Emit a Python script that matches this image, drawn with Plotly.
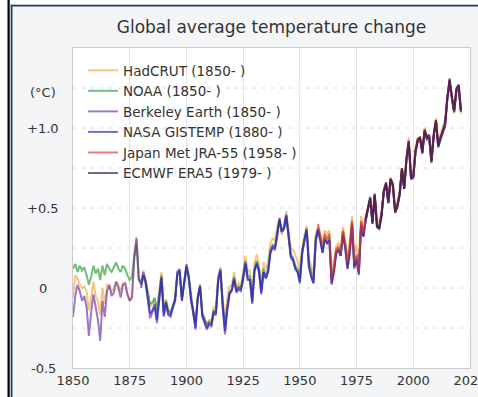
import plotly.graph_objects as go

# ---------------- data ----------------
years_1850 = list(range(1850, 2022))
years_1880 = list(range(1880, 2022))
years_1958 = list(range(1958, 2022))
years_1979 = list(range(1979, 2022))

hadcrut = [
    -0.06, 0.08, 0.06, 0.02, 0.00, 0.01, -0.02, -0.14, -0.06, 0.04,
    -0.05, -0.08, -0.17, 0.00, -0.10, 0.02, 0.01, -0.02, 0.00, 0.04,
    0.02, -0.02, 0.03, 0.02, -0.04, -0.08, -0.05, 0.22, 0.32, 0.05,
    0.03, 0.11, 0.05, -0.03, -0.12, -0.10, -0.07, -0.15, -0.03, 0.10,
    -0.15, -0.07, -0.14, -0.16, -0.12, -0.07, 0.10, 0.10, -0.07, 0.03,
    0.13, 0.07, -0.07, -0.17, -0.22, -0.05, 0.02, -0.15, -0.20, -0.22,
    -0.20, -0.21, -0.12, -0.12, 0.07, 0.13, -0.08, -0.18, -0.06, 0.01,
    0.02, 0.10, 0.01, 0.03, 0.01, 0.10, 0.20, 0.11, 0.11, -0.03,
    0.16, 0.21, 0.15, 0.02, 0.16, 0.12, 0.16, 0.28, 0.31, 0.30,
    0.38, 0.43, 0.33, 0.38, 0.48, 0.37, 0.25, 0.24, 0.20, 0.17,
    0.10, 0.25, 0.33, 0.39, 0.18, 0.14, 0.08, 0.33, 0.39, 0.34,
    0.28, 0.36, 0.34, 0.36, 0.09, 0.17, 0.26, 0.28, 0.25, 0.38,
    0.30, 0.20, 0.30, 0.45, 0.21, 0.27, 0.17, 0.45, 0.36, 0.45,
    0.50, 0.56, 0.42, 0.59, 0.42, 0.41, 0.47, 0.61, 0.64, 0.55,
    0.68, 0.66, 0.50, 0.54, 0.60, 0.75, 0.64, 0.82, 0.94, 0.74,
    0.73, 0.88, 0.94, 0.94, 0.86, 1.00, 0.95, 0.95, 0.84, 0.97,
    1.06, 0.93, 0.96, 1.01, 1.05, 1.20, 1.27, 1.18, 1.09, 1.22,
    1.25, 1.09,
]

noaa = [
    0.12, 0.15, 0.10, 0.14, 0.11, 0.13, 0.08, 0.02, 0.07, 0.14,
    0.09, 0.12, 0.05, 0.14, 0.08, 0.15, 0.12, 0.10, 0.13, 0.16,
    0.12, 0.10, 0.14, 0.12, 0.08, 0.05, 0.07, 0.20, 0.28, 0.06,
    0.04, 0.08, 0.05, -0.02, -0.10, -0.09, -0.06, -0.14, -0.04, 0.08,
    -0.12, -0.08, -0.14, -0.15, -0.11, -0.06, 0.08, 0.09, -0.06, 0.02,
    0.12, 0.06, -0.06, -0.14, -0.21, -0.06, 0.00, -0.16, -0.19, -0.23,
    -0.21, -0.22, -0.14, -0.14, 0.04, 0.10, -0.10, -0.24, -0.12, -0.03,
    -0.01, 0.07, -0.01, 0.01, 0.00, 0.07, 0.17, 0.08, 0.07, -0.07,
    0.12, 0.17, 0.12, -0.01, 0.12, 0.08, 0.12, 0.24, 0.27, 0.26,
    0.35, 0.42, 0.35, 0.37, 0.45, 0.33, 0.21, 0.19, 0.14, 0.12,
    0.06, 0.23, 0.31, 0.37, 0.15, 0.09, 0.05, 0.31, 0.37, 0.31,
    0.24, 0.32, 0.30, 0.32, 0.05, 0.12, 0.23, 0.25, 0.21, 0.35,
    0.27, 0.14, 0.24, 0.41, 0.14, 0.20, 0.10, 0.41, 0.33, 0.43,
    0.49, 0.55, 0.41, 0.58, 0.39, 0.38, 0.46, 0.60, 0.64, 0.53,
    0.68, 0.64, 0.48, 0.52, 0.59, 0.74, 0.62, 0.81, 0.91, 0.69,
    0.70, 0.86, 0.92, 0.93, 0.85, 0.98, 0.93, 0.94, 0.80, 0.95,
    1.04, 0.89, 0.94, 0.98, 1.02, 1.18, 1.28, 1.19, 1.10, 1.23,
    1.25, 1.10,
]

berkeley = [
    -0.18, -0.05, 0.02, -0.02, -0.08, -0.05, -0.12, -0.30, -0.15, -0.04,
    -0.12, -0.20, -0.33, -0.08, -0.18, -0.02, 0.02, -0.05, -0.03, 0.04,
    0.00, -0.06, 0.02, 0.03, -0.04, -0.08, -0.06, 0.18, 0.31, 0.05,
    0.02, 0.10, 0.04, -0.08, -0.19, -0.15, -0.12, -0.22, -0.08, 0.07,
    -0.18, -0.10, -0.17, -0.18, -0.12, -0.08, 0.10, 0.12, -0.08, 0.03,
    0.15, 0.08, -0.08, -0.15, -0.26, -0.06, 0.02, -0.18, -0.22, -0.26,
    -0.23, -0.24, -0.16, -0.17, 0.06, 0.12, -0.12, -0.29, -0.14, -0.04,
    -0.02, 0.06, -0.03, -0.01, -0.02, 0.06, 0.16, 0.06, 0.05, -0.10,
    0.10, 0.16, 0.10, -0.04, 0.10, 0.06, 0.10, 0.22, 0.26, 0.25,
    0.33, 0.44, 0.36, 0.38, 0.46, 0.34, 0.20, 0.18, 0.12, 0.10,
    0.04, 0.22, 0.30, 0.37, 0.14, 0.07, 0.03, 0.30, 0.37, 0.30,
    0.22, 0.31, 0.28, 0.30, 0.02, 0.10, 0.22, 0.24, 0.20, 0.34,
    0.25, 0.12, 0.22, 0.40, 0.12, 0.18, 0.08, 0.40, 0.32, 0.42,
    0.49, 0.56, 0.40, 0.58, 0.38, 0.37, 0.45, 0.60, 0.65, 0.53,
    0.68, 0.64, 0.47, 0.51, 0.58, 0.74, 0.62, 0.80, 0.91, 0.68,
    0.69, 0.85, 0.92, 0.93, 0.84, 0.98, 0.93, 0.94, 0.78, 0.95,
    1.04, 0.88, 0.93, 0.97, 1.01, 1.18, 1.29, 1.19, 1.10, 1.23,
    1.26, 1.10,
]

nasa = [
    0.00, 0.08, 0.03, -0.06, -0.16, -0.14, -0.10, -0.20, -0.06, 0.06,
    -0.17, -0.09, -0.16, -0.17, -0.12, -0.08, 0.09, 0.11, -0.08, 0.02,
    0.14, 0.07, -0.07, -0.15, -0.25, -0.06, 0.01, -0.17, -0.21, -0.25,
    -0.22, -0.23, -0.15, -0.16, 0.05, 0.11, -0.11, -0.27, -0.13, -0.03,
    -0.01, 0.05, -0.02, 0.00, -0.01, 0.05, 0.15, 0.05, 0.05, -0.09,
    0.11, 0.15, 0.10, -0.03, 0.10, 0.06, 0.10, 0.22, 0.25, 0.24,
    0.32, 0.43, 0.35, 0.37, 0.45, 0.33, 0.19, 0.17, 0.12, 0.10,
    0.03, 0.21, 0.30, 0.36, 0.13, 0.07, 0.03, 0.29, 0.36, 0.30,
    0.22, 0.30, 0.28, 0.30, 0.03, 0.10, 0.21, 0.24, 0.20, 0.33,
    0.25, 0.12, 0.22, 0.39, 0.13, 0.18, 0.09, 0.39, 0.32, 0.42,
    0.48, 0.56, 0.40, 0.58, 0.38, 0.37, 0.45, 0.60, 0.65, 0.53,
    0.68, 0.64, 0.47, 0.51, 0.58, 0.74, 0.62, 0.80, 0.90, 0.68,
    0.69, 0.85, 0.92, 0.93, 0.84, 0.98, 0.93, 0.94, 0.79, 0.95,
    1.04, 0.88, 0.93, 0.97, 1.01, 1.18, 1.30, 1.19, 1.10, 1.24,
    1.27, 1.11,
]

jra55 = [
    0.40, 0.33,
    0.26, 0.34, 0.31, 0.34, 0.06, 0.13, 0.24, 0.26, 0.22, 0.36,
    0.28, 0.16, 0.26, 0.42, 0.16, 0.21, 0.10, 0.42, 0.34, 0.44,
    0.50, 0.56, 0.42, 0.58, 0.40, 0.39, 0.47, 0.61, 0.66, 0.54,
    0.69, 0.63, 0.47, 0.52, 0.60, 0.75, 0.63, 0.81, 0.92, 0.69,
    0.70, 0.86, 0.93, 0.94, 0.85, 0.99, 0.94, 0.95, 0.79, 0.96,
    1.05, 0.89, 0.94, 0.98, 1.02, 1.19, 1.30, 1.19, 1.10, 1.24,
    1.26, 1.11,
]

era5 = [
    0.43,
    0.49, 0.57, 0.41, 0.59, 0.39, 0.38, 0.46, 0.61, 0.66, 0.54,
    0.68, 0.65, 0.48, 0.51, 0.59, 0.75, 0.62, 0.81, 0.92, 0.69,
    0.70, 0.86, 0.93, 0.94, 0.85, 0.99, 0.94, 0.96, 0.79, 0.96,
    1.05, 0.89, 0.94, 0.98, 1.03, 1.19, 1.31, 1.20, 1.11, 1.25,
    1.27, 1.11,
]

series_names = [
    "HadCRUT (1850- )",
    "NOAA (1850- )",
    "Berkeley Earth (1850- )",
    "NASA GISTEMP (1880- )",
    "Japan Met JRA-55 (1958- )",
    "ECMWF ERA5 (1979- )",
]
series_years = [years_1850, years_1850, years_1850, years_1880, years_1958, years_1979]
series_values = [hadcrut, noaa, berkeley, nasa, jra55, era5]
series_colors = ["#f2a93b", "#2a9a3a", "#6a2fa8", "#1d25b8", "#e0342c", "#2c1748"]

x_tick_vals = [1850, 1875, 1900, 1925, 1950, 1975, 2000, 2025]
x_tick_text = ["1850", "1875", "1900", "1925", "1950", "1975", "2000", "2025"]
y_label_vals = [-0.5, 0.0, 0.5, 1.0, 1.22]
y_label_text = ["-0.5", "0", "+0.5", "+1.0", "(°C)"]
y_grid_vals = [-0.25, 0.0, 0.25, 0.5, 0.75, 1.0, 1.25]

# ---------------- geometry ----------------
W, H = 478, 397
ML, MR, MT, MB = 73, 8, 48, 29
PW, PH = W - ML - MR, H - MT - MB


def px(x):
    return (x - ML) / PW


def py(y):
    return (H - MB - y) / PH


fig = go.Figure()
for name, xs, ys, col in zip(series_names, series_years, series_values, series_colors):
    fig.add_trace(go.Scatter(
        x=xs, y=ys, name=name, mode="lines",
        line=dict(color=col, width=2),
        opacity=0.65,
    ))

font_family = "DejaVu Sans, Verdana, sans-serif"

annotations = []
for v, t in zip(y_label_vals, y_label_text):
    annotations.append(dict(
        x=px(43), xref="paper", y=v, yref="y", text=t, showarrow=False,
        xanchor="center", yanchor="middle",
        font=dict(family=font_family, size=13, color="#333333"),
    ))

shapes = []
shapes.append(dict(type="rect", xref="paper", yref="paper", x0=0, x1=1, y0=0, y1=1,
                   fillcolor="#ffffff", line=dict(width=0), layer="below"))
for g in y_grid_vals:
    shapes.append(dict(type="line", xref="paper", yref="y", x0=0, x1=1, y0=g, y1=g,
                       line=dict(color="#d8d8d8", width=1, dash="3px,6px"), layer="below"))
shapes.append(dict(type="rect", xref="paper", yref="paper", x0=px(-2), x1=px(7.5),
                   y0=py(H + 2), y1=py(-2), fillcolor="#ffffff", line=dict(width=0), layer="above"))
shapes.append(dict(type="rect", xref="paper", yref="paper", x0=px(7.5), x1=px(W + 2),
                   y0=py(4.6), y1=py(-2), fillcolor="#ffffff", line=dict(width=0), layer="above"))
shapes.append(dict(type="line", xref="paper", yref="paper", x0=px(8.6), x1=px(8.6),
                   y0=py(H + 2), y1=py(-2), line=dict(color="#000000", width=2.2), layer="above"))
shapes.append(dict(type="line", xref="paper", yref="paper", x0=px(11.6), x1=px(11.6),
                   y0=py(H + 2), y1=py(4.8), line=dict(color="#263c5c", width=1.8), layer="above"))
shapes.append(dict(type="line", xref="paper", yref="paper", x0=px(10.8), x1=px(W + 2),
                   y0=py(5.6), y1=py(5.6), line=dict(color="#263c5c", width=1.8), layer="above"))

fig.update_layout(
    width=W, height=H,
    margin=dict(l=ML, r=MR, t=MT, b=MB, pad=0),
    paper_bgcolor="#f4f5f7",
    plot_bgcolor="#ffffff",
    font=dict(family=font_family, color="#333333"),
    title=dict(text="Global average temperature change", x=0.5, xref="paper",
               y=1 - 27 / H, yanchor="middle", yref="container",
               font=dict(family=font_family, size=17, color="#333333")),
    showlegend=True,
    legend=dict(x=px(83), y=py(55), xanchor="left", yanchor="top",
                bgcolor="rgba(0,0,0,0)", borderwidth=0,
                font=dict(family=font_family, size=13.5, color="#333333"),
                tracegroupgap=0),
    xaxis=dict(range=[1850, 2025], tickmode="array", tickvals=x_tick_vals, ticktext=x_tick_text,
               showgrid=True, gridcolor="#e4e4e4", gridwidth=1, zeroline=False,
               showline=True, linecolor="#cccccc", linewidth=1, mirror=True,
               ticks="", tickfont=dict(size=13, color="#333333"), automargin=False,
               ticklabeloverflow="allow"),
    yaxis=dict(range=[-0.5, 1.5], showgrid=False, zeroline=False, showticklabels=False,
               showline=True, linecolor="#cccccc", linewidth=1, mirror=True,
               ticks="", automargin=False),
    annotations=annotations,
    shapes=shapes,
)

fig.write_html("out.html")
